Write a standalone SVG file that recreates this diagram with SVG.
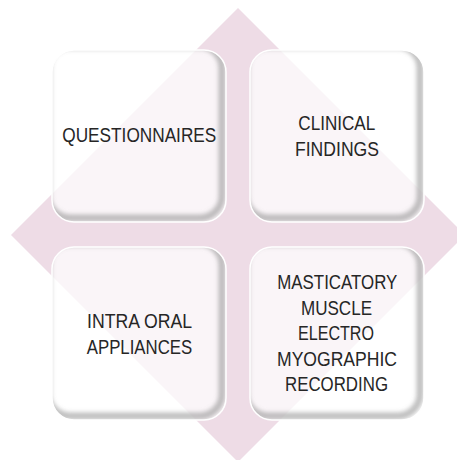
<svg xmlns="http://www.w3.org/2000/svg" width="457" height="460" viewBox="0 0 457 460">
<style>
.box{fill:#ffffff;fill-opacity:0.7}
.edge{fill:none;stroke:#ffffff;stroke-width:1.5}
.sh{fill:none;stroke:#8a8a8a;stroke-width:7;stroke-opacity:0.55}
.t{font-family:"Liberation Sans",Arial,sans-serif;font-size:20px;fill:#262626;text-anchor:middle}
</style>
<defs>
<filter id="blur" x="-10%" y="-10%" width="120%" height="120%"><feGaussianBlur stdDeviation="2"/></filter>
<clipPath id="c1"><rect x="52" y="50" width="174" height="172" rx="22"/></clipPath>
<clipPath id="c2"><rect x="250" y="50" width="174" height="172" rx="22"/></clipPath>
<clipPath id="c3"><rect x="52" y="247" width="174" height="173" rx="22"/></clipPath>
<clipPath id="c4"><rect x="250" y="247" width="174" height="173" rx="22"/></clipPath>
</defs>
<rect width="457" height="460" fill="#ffffff"/>
<polygon id="diamond" points="238,8 465,235 238,462 11,235" fill="#eedce6"/>
<g id="connectors"></g>
<g id="n1">
<rect class="box" x="52" y="50" width="174" height="172" rx="22"/>
<g clip-path="url(#c1)"><rect class="sh" x="48" y="46" width="174" height="172" rx="22" filter="url(#blur)"/></g>
<rect class="edge" x="52" y="50" width="174" height="172" rx="22"/>
<text class="t" x="139.3" y="141.5" textLength="154" lengthAdjust="spacingAndGlyphs">QUESTIONNAIRES</text>
</g>
<g id="n2">
<rect class="box" x="250" y="50" width="174" height="172" rx="22"/>
<g clip-path="url(#c2)"><rect class="sh" x="246" y="46" width="174" height="172" rx="22" filter="url(#blur)"/></g>
<rect class="edge" x="250" y="50" width="174" height="172" rx="22"/>
<text class="t" x="336.8" y="130" textLength="77" lengthAdjust="spacingAndGlyphs">CLINICAL</text>
<text class="t" x="337" y="155.5" textLength="84" lengthAdjust="spacingAndGlyphs">FINDINGS</text>
</g>
<g id="n3">
<rect class="box" x="52" y="247" width="174" height="173" rx="22"/>
<g clip-path="url(#c3)"><rect class="sh" x="48" y="243" width="174" height="173" rx="22" filter="url(#blur)"/></g>
<rect class="edge" x="52" y="247" width="174" height="173" rx="22"/>
<text class="t" x="139.5" y="328" textLength="105" lengthAdjust="spacingAndGlyphs">INTRA ORAL</text>
<text class="t" x="139.5" y="353.5" textLength="105.5" lengthAdjust="spacingAndGlyphs">APPLIANCES</text>
</g>
<g id="n4">
<rect class="box" x="250" y="247" width="174" height="173" rx="22"/>
<g clip-path="url(#c4)"><rect class="sh" x="246" y="243" width="174" height="173" rx="22" filter="url(#blur)"/></g>
<rect class="edge" x="250" y="247" width="174" height="173" rx="22"/>
<text class="t" x="337.3" y="289" textLength="120" lengthAdjust="spacingAndGlyphs">MASTICATORY</text>
<text class="t" x="336.5" y="314.5" textLength="71" lengthAdjust="spacingAndGlyphs">MUSCLE</text>
<text class="t" x="336" y="340" textLength="76" lengthAdjust="spacingAndGlyphs">ELECTRO</text>
<text class="t" x="337" y="365.5" textLength="120" lengthAdjust="spacingAndGlyphs">MYOGRAPHIC</text>
<text class="t" x="336.5" y="391" textLength="103" lengthAdjust="spacingAndGlyphs">RECORDING</text>
</g>
</svg>
